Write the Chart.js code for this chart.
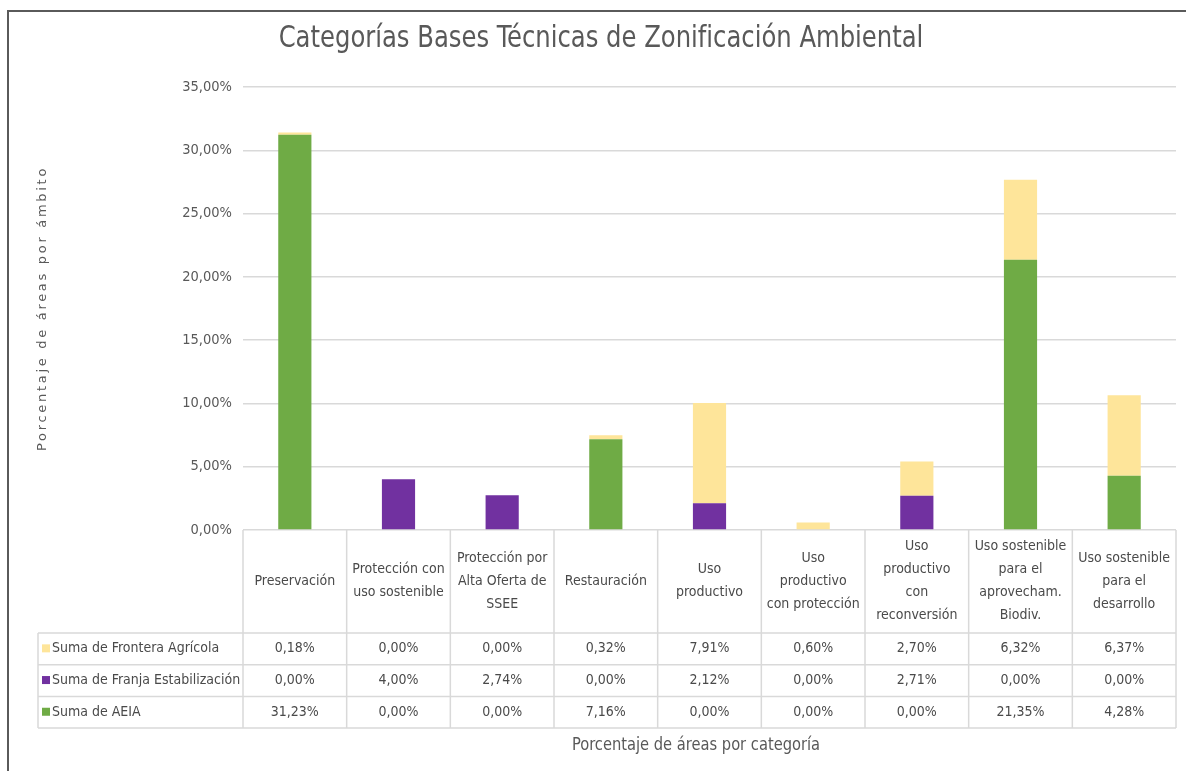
<!DOCTYPE html>
<html lang="es">
<head>
<meta charset="utf-8">
<title>Categorías Bases Técnicas de Zonificación Ambiental</title>
<script src="https://cdn.jsdelivr.net/npm/chart.js@4.4.0/dist/chart.umd.min.js"></script>
<style>
  html, body { margin: 0; padding: 0; background: #fff; }
  #wrap { width: 1186px; height: 771px; }
</style>
</head>
<body>
<div id="wrap"><canvas id="chartZonas" width="1186" height="771"></canvas></div>
<script>
// ── Datos ───────────────────────────────────────────────
const CATEGORIAS = [
  ['Preservación'],
  ['Protección con', 'uso sostenible'],
  ['Protección por', 'Alta Oferta de', 'SSEE'],
  ['Restauración'],
  ['Uso', 'productivo'],
  ['Uso', 'productivo', 'con protección'],
  ['Uso', 'productivo', 'con', 'reconversión'],
  ['Uso sostenible', 'para el', 'aprovecham.', 'Biodiv.'],
  ['Uso sostenible', 'para el', 'desarrollo']
];
const AEIA     = [31.23, 0.00, 0.00, 7.16, 0.00, 0.00, 0.00, 21.35, 4.28];
const FRANJA   = [0.00, 4.00, 2.74, 0.00, 2.12, 0.00, 2.71, 0.00, 0.00];
const FRONTERA = [0.18, 0.00, 0.00, 0.32, 7.91, 0.60, 2.70, 6.32, 6.37];
const Y_MIN = 0, Y_MAX = 35, Y_STEP = 5;

const TITULO = 'Categorías Bases Técnicas de Zonificación Ambiental';
const C_AEIA = '#6fab45';
const C_FRANJA = '#7131a0';
const C_FRONTERA = '#fee59a';
const GRID_COLOR = '#d9d9d9';
const TXT = '#4a4a4a';
const FONT = '"DejaVu Sans Condensed", "DejaVu Sans", sans-serif';

const pct = v => v.toFixed(2).replace('.', ',') + '%';

// texto estrechado horizontalmente (aspecto Calibri)
function textoEstrecho(ctx, txt, x, y, k) {
  ctx.save();
  ctx.translate(x, y);
  ctx.scale(k, 1);
  ctx.fillText(txt, 0, 0);
  ctx.restore();
}

// ── Tabla de datos bajo el eje X + bordes y títulos ─────
const tablaDatos = {
  id: 'tablaDatos',
  afterDraw(chart) {
    const { ctx, scales: { x, y } } = chart;
    const n = CATEGORIAS.length;
    const half = (x.getPixelForValue(1) - x.getPixelForValue(0)) / 2;
    const bounds = CATEGORIAS.map((_, i) => x.getPixelForValue(i) - half);
    bounds.push(x.getPixelForValue(n - 1) + half);

    const top = y.getPixelForValue(0);
    const headBottom = top + 103;
    const rowH = 31.7;
    const tableLeft = 38;
    const right = bounds[n];

    const filas = [
      { nombre: 'Suma de Frontera Agrícola', color: C_FRONTERA, data: FRONTERA },
      { nombre: 'Suma de Franja Estabilización', color: C_FRANJA, data: FRANJA },
      { nombre: 'Suma de AEIA', color: C_AEIA, data: AEIA }
    ];
    const bottom = headBottom + rowH * filas.length;

    ctx.save();
    ctx.strokeStyle = GRID_COLOR;
    ctx.lineWidth = 1.5;
    ctx.beginPath();
    bounds.forEach(bx => { ctx.moveTo(bx, top); ctx.lineTo(bx, bottom); });
    ctx.moveTo(tableLeft, headBottom); ctx.lineTo(tableLeft, bottom);
    for (let r = 0; r <= filas.length; r++) {
      const ry = headBottom + r * rowH;
      ctx.moveTo(tableLeft, ry); ctx.lineTo(right, ry);
    }
    ctx.stroke();

    // encabezados de categoría
    ctx.fillStyle = TXT;
    ctx.font = '14px ' + FONT;
    ctx.textAlign = 'center';
    ctx.textBaseline = 'middle';
    const lh = 23;
    const midHead = top + 51;
    CATEGORIAS.forEach((lines, i) => {
      const cx = x.getPixelForValue(i);
      const y0 = midHead - (lines.length - 1) * lh / 2;
      lines.forEach((t, k) => ctx.fillText(t, cx, y0 + k * lh));
    });

    // filas de valores
    filas.forEach((f, r) => {
      const cy = headBottom + r * rowH + rowH / 2;
      ctx.fillStyle = f.color;
      ctx.fillRect(42, cy - 4.5, 8, 8);
      ctx.fillStyle = TXT;
      ctx.textAlign = 'left';
      ctx.fillText(f.nombre, 52, cy);
      ctx.textAlign = 'center';
      f.data.forEach((v, i) => ctx.fillText(pct(v), x.getPixelForValue(i), cy));
    });

    // título eje X
    ctx.fillStyle = '#595959';
    ctx.font = '17px ' + FONT;
    textoEstrecho(ctx, 'Porcentaje de áreas por categoría', 696, 746, 0.96);

    // título del gráfico
    ctx.font = '30px ' + FONT;
    textoEstrecho(ctx, TITULO, 601, 39, 0.9);

    // título eje Y
    ctx.save();
    ctx.translate(43, (y.top + y.bottom) / 2);
    ctx.rotate(-Math.PI / 2);
    ctx.font = '13px "DejaVu Sans", sans-serif';
    ctx.letterSpacing = '2.7px';
    ctx.fillStyle = '#595959';
    ctx.fillText('Porcentaje de áreas por ámbito', 0, 0);
    ctx.restore();

    // marco exterior
    ctx.strokeStyle = '#5a5a5a';
    ctx.lineWidth = 2;
    ctx.beginPath();
    ctx.moveTo(8, chart.height); ctx.lineTo(8, 11); ctx.lineTo(chart.width, 11);
    ctx.stroke();
    ctx.restore();
  }
};

new Chart(document.getElementById('chartZonas'), {
  type: 'bar',
  data: {
    labels: CATEGORIAS,
    datasets: [
      { label: 'Suma de AEIA', data: AEIA, backgroundColor: C_AEIA },
      { label: 'Suma de Franja Estabilización', data: FRANJA, backgroundColor: C_FRANJA },
      { label: 'Suma de Frontera Agrícola', data: FRONTERA, backgroundColor: C_FRONTERA }
    ]
  },
  options: {
    responsive: false,
    animation: false,
    devicePixelRatio: 1,
    categoryPercentage: 1,
    barPercentage: 0.32,
    layout: { padding: { top: 87, left: 26, right: 10, bottom: 241 } },
    plugins: {
      legend: { display: false },
      tooltip: { enabled: false },
      title: { display: false }
    },
    scales: {
      x: { stacked: true, display: false },
      y: {
        stacked: true,
        min: Y_MIN,
        max: Y_MAX,
        afterFit: s => { s.width = 217; },
        border: { display: false },
        grid: { color: GRID_COLOR, lineWidth: 1.5, drawTicks: false },
        ticks: {
          stepSize: Y_STEP,
          padding: 11,
          color: '#595959',
          font: { family: FONT, size: 14.5 },
          callback: v => pct(v)
        }
      }
    }
  },
  plugins: [tablaDatos]
});
</script>
</body>
</html>
